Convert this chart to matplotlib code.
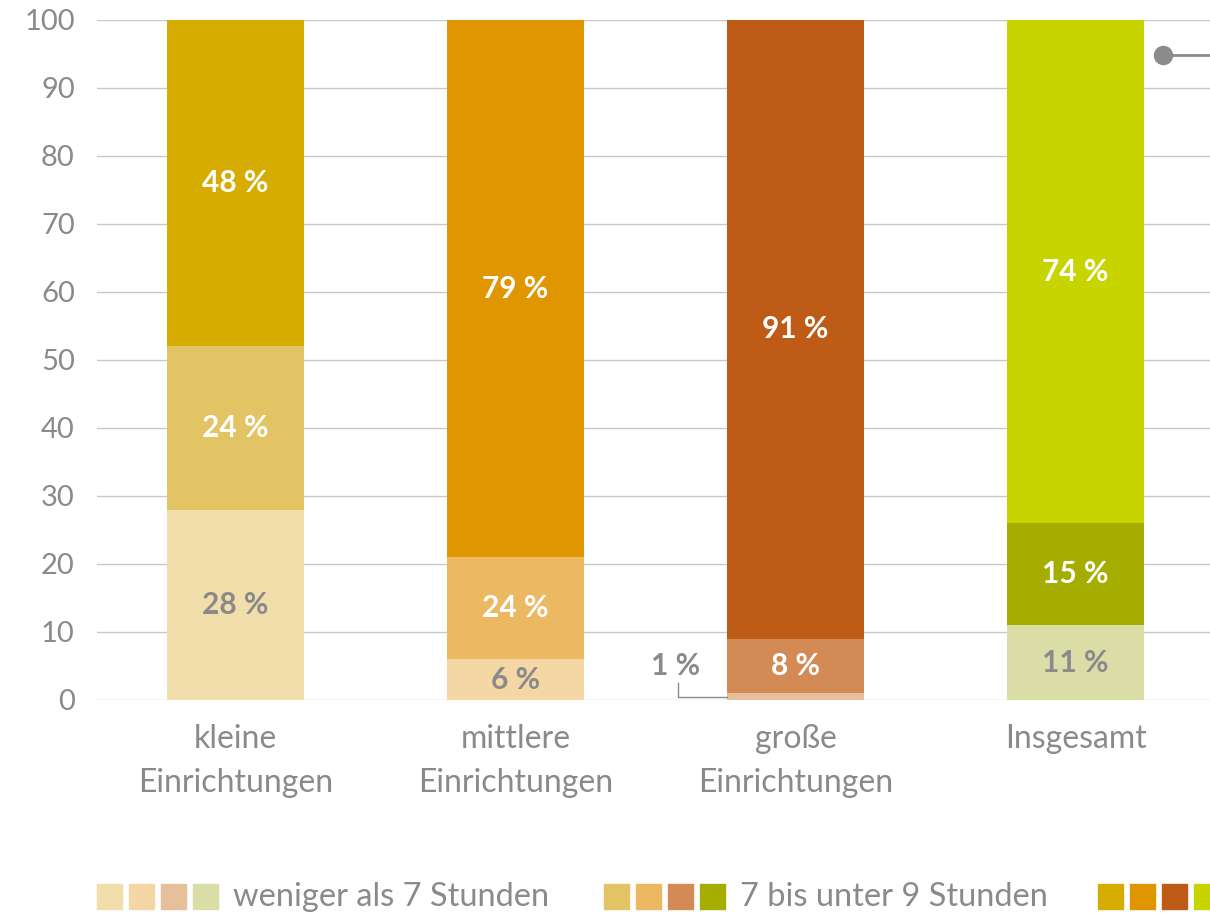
import matplotlib
matplotlib.use("Agg")
import matplotlib.pyplot as plt
from matplotlib.patches import Rectangle

plt.rcParams['font.family'] = ['Lato', 'DejaVu Sans']

categories = ["kleine\nEinrichtungen", "mittlere\nEinrichtungen", "große\nEinrichtungen", "Insgesamt"]
series_names = ["weniger als 7 Stunden", "7 bis unter 9 Stunden", "9 Stunden und mehr"]
low_vals = [28, 6, 1, 11]
mid_vals = [24, 15, 8, 15]
high_vals = [48, 79, 91, 74]
low_labels = ["28 %", "6 %", "1 %", "11 %"]
mid_labels = ["24 %", "24 %", "8 %", "15 %"]
high_labels = ["48 %", "79 %", "91 %", "74 %"]
yticks = [0, 10, 20, 30, 40, 50, 60, 70, 80, 90, 100]

low_colors = ["#F2DEAB", "#F5D6A5", "#E6BF9B", "#DADDA6"]
mid_colors = ["#E3C464", "#EDB862", "#D48A55", "#A5AD00"]
high_colors = ["#D6AC00", "#E09600", "#BE5C17", "#C8D400"]

W, H = 1210, 919
fig = plt.figure(figsize=(W / 100, H / 100), dpi=100)
ax = fig.add_axes([97 / W, 1 - 700 / H, 1 - 97 / W, (700 - 20) / H])

gray = "#8a8a8a"
x = list(range(len(categories)))
bw = 0.49
ax.bar(x, low_vals, bw, color=low_colors, zorder=3)
ax.bar(x, mid_vals, bw, bottom=low_vals, color=mid_colors, zorder=3)
bottoms_high = [a + b for a, b in zip(low_vals, mid_vals)]
ax.bar(x, high_vals, bw, bottom=bottoms_high, color=high_colors, zorder=3)

fs_lab = 21.5
for i in x:
    if low_vals[i] >= 4:
        ax.text(i, low_vals[i] / 2, low_labels[i], ha="center", va="center",
                color=gray, fontsize=fs_lab, fontweight="bold", zorder=4)
    else:
        ax.text(i - 0.43, low_vals[i] + mid_vals[i] / 2, low_labels[i], ha="center", va="center",
                color=gray, fontsize=fs_lab, fontweight="bold", zorder=4)
        ax.plot([i - 0.42, i - 0.42, i - bw / 2], [2.5, low_vals[i] / 2, low_vals[i] / 2],
                color=gray, lw=1, zorder=4)
    ax.text(i, low_vals[i] + mid_vals[i] / 2, mid_labels[i], ha="center", va="center",
            color="white", fontsize=fs_lab, fontweight="bold", zorder=4)
    ax.text(i, bottoms_high[i] + high_vals[i] / 2, high_labels[i], ha="center", va="center",
            color="white", fontsize=fs_lab, fontweight="bold", zorder=4)

ax.set_ylim(0, 100)
ax.set_xlim(-138.5 / 280, (1210 - 235.5) / 280)
ax.set_yticks(yticks)
ax.yaxis.grid(True, color="#c8c8c8", lw=1, zorder=0)
ax.set_axisbelow(True)
for s in ax.spines.values():
    s.set_visible(False)
ax.tick_params(axis="y", length=0, pad=16, labelsize=21, labelcolor=gray)
ax.tick_params(axis="x", length=0, pad=17, labelsize=23, labelcolor=gray)
ax.set_xticks(x)
ax.set_xticklabels(categories, linespacing=1.6)

# partially visible marker at top right
ax.plot([1163 / W, 1.05], [1 - 55 / H, 1 - 55 / H], transform=fig.transFigure,
        color="#8c8c8c", lw=2, clip_on=False, zorder=5)
ax.plot([1163 / W], [1 - 55 / H], transform=fig.transFigure, marker="o", ms=13,
        color="#8c8c8c", clip_on=False, zorder=6)

# legend drawn manually (third label lies beyond the right edge in the reference)
group_colors = [low_colors, mid_colors, high_colors]
group_x = [97, 604, 1098]
for gi, (gx, cols, name) in enumerate(zip(group_x, group_colors, series_names)):
    for k, c in enumerate(cols):
        fig.patches.append(Rectangle(((gx + 32 * k) / W, 1 - 909 / H), 25 / W, 25 / H,
                                     transform=fig.transFigure, color=c))
    if gx + 136 < W:
        fig.text((gx + 136) / W, 1 - 897 / H, name, ha="left", va="center",
                 fontsize=23.5, color=gray)

fig.savefig("out.png", dpi=100)
